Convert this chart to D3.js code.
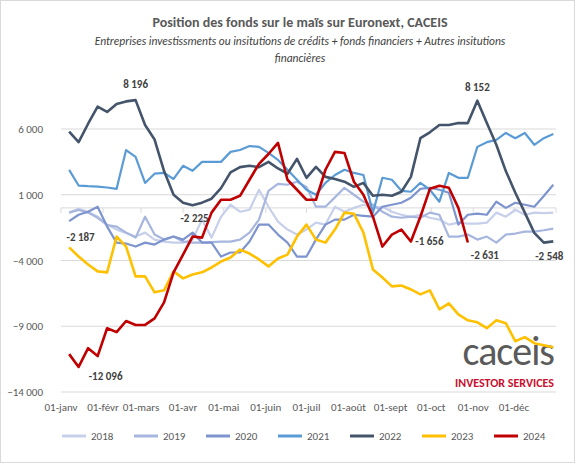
<!DOCTYPE html>
<html><head><meta charset="utf-8">
<script src="https://cdn.jsdelivr.net/npm/d3@7"></script>
<style>body{margin:0;background:#fff;font-family:Calibri,"Liberation Sans",Arial,sans-serif}</style>
</head><body><svg id="c" width="575" height="463"></svg>
<script>
let years = ['2018','2019','2020','2021','2022','2023','2024'];
let colors = ['#C7D0EA','#A7B6DF','#7D94CE','#5B9BD5','#44546A','#FFC000','#C00000'];
let monthLabels = ['01-janv','01-févr','01-mars','01-avr','01-mai','01-juin','01-juil','01-août','01-sept','01-oct','01-nov','01-déc'];
let monthDays = [0,31,59,90,120,151,181,212,243,273,304,334];
let yTicks = [6000,1000,-4000,-9000,-14000];

let s2018 = [-360,-60,-290,-670,-1270,-1650,-1900,-2180,-1880,-2410,-2560,-2640,-2640,-2410,-890,-2260,-670,240,-290,-140,1380,90,-1050,-1650,-2030,-1650,-1120,-1270,90,-290,0,240,0,90,-290,-520,-670,-520,-750,-890,-1270,-1120,-1200,-1200,-1120,-360,-670,-140,-520,-360,-400,-360];
let s2019 = [-360,-150,-360,-750,-1300,-1420,-1880,-2260,-670,-2030,-2410,-2180,-2560,-2640,-2640,-2600,-2560,-2560,-2410,-1880,-890,1300,1830,1760,1990,1600,90,90,800,1530,1000,470,240,-290,-670,-750,-670,-750,-360,-520,-2180,-2180,-2030,-2410,-2180,-2640,-2030,-1950,-1800,-1800,-1700,-1570];
let s2020 = [-1000,-520,-290,90,-1420,-2640,-2710,-2940,-2640,-2790,-2410,-2180,-2410,-1880,-2640,-2640,-3700,-3390,-3390,-2560,-1270,-1270,-2030,-2640,-3700,-3700,-2410,-1270,-890,-890,-520,-600,-670,90,240,390,770,1450,1530,1380,1150,-1270,-520,-440,-520,470,0,390,240,90,900,1760];
let s2021 = [2890,1700,1650,1620,1550,1450,4400,3880,1900,2600,2660,2200,3200,2820,3500,3500,3500,4260,4400,4700,4640,4180,3650,2900,2140,1380,1000,1900,2500,2900,2660,2500,-360,2290,2140,1300,1230,1900,1380,470,2660,2290,2290,4640,5000,5170,5700,5300,5700,4800,5300,5620];
let s2022 = [5800,5000,6400,7700,7300,7900,8100,8196,6300,5200,2800,1000,400,200,400,700,1500,2700,3100,3200,3100,3500,3000,2600,3730,2290,3120,2360,2200,1990,1600,1900,920,1000,920,1230,2360,5300,5750,6300,6300,6450,6450,8152,6450,4800,2800,1150,-360,-1900,-2640,-2548];
let s2023 = [-3000,-3700,-4300,-4830,-4900,-2180,-2940,-5210,-5210,-6420,-6270,-4830,-5360,-5060,-4900,-4530,-4080,-3770,-3170,-3470,-3920,-4450,-3850,-3550,-2180,-1270,-2410,-2640,-1650,-360,-440,-1880,-4680,-5290,-5970,-5900,-6200,-6580,-6270,-7710,-7260,-8090,-8550,-8700,-9150,-8550,-8770,-10140,-9830,-10290,-10440,-10590];
let s2024 = [-11120,-12096,-10670,-11270,-9150,-9450,-8600,-8900,-8900,-8400,-7180,-4900,-3550,-2180,-2260,-360,620,620,920,2140,3350,4100,4940,2140,1380,620,620,2900,4260,4180,1990,1000,-670,-2940,-2030,-1650,-2560,-670,1450,1680,1530,0,-2631];
let series = [s2018,s2019,s2020,s2021,s2022,s2023,s2024];

// point labels: [series index, week index, text, dx, dy]
let labels = [[4,7,'8 196',0,-12],[4,43,'8 152',0,-10],[5,5,'-2 187',-36,4],[6,1,'-12 096',27,13],[6,13,'-2 225',2,-15],[6,35,'-1 656',28,15],[6,42,'-2 631',17,17],[4,51,'-2 548',-4,19]];

const svg = d3.select('#c');
svg.append('rect').attr('x',0.5).attr('y',0.5).attr('width',574).attr('height',462).attr('fill','#fff').attr('stroke','#d9d9d9');

const x = d3.scaleLinear().domain([0,365]).range([61,556]);
const y = d3.scaleLinear().domain([-14000,6000]).range([392,129]);
const dayOf = i => 6 + i*7;

svg.append('text').attr('x',300).attr('y',27).attr('text-anchor','middle').attr('font-size',14).attr('font-weight','bold').attr('fill','#595959').text('Position des fonds sur le maïs sur Euronext, CACEIS');
svg.append('text').attr('x',300).attr('y',45).attr('text-anchor','middle').attr('font-size',11.5).attr('font-style','italic').attr('fill','#404040').text('Entreprises investissments ou insitutions de crédits + fonds financiers + Autres  insitutions');
svg.append('text').attr('x',300).attr('y',62).attr('text-anchor','middle').attr('font-size',11.5).attr('font-style','italic').attr('fill','#404040').text('financières');

// grid
svg.append('g').selectAll('line').data(yTicks).join('line')
  .attr('x1',61).attr('x2',556).attr('y1',d=>y(d)).attr('y2',d=>y(d)).attr('stroke','#d9d9d9');
svg.append('g').selectAll('text').data(yTicks).join('text')
  .attr('x',43).attr('y',d=>y(d)+4).attr('text-anchor','end').attr('font-size',11).attr('fill','#595959')
  .text(d=>d3.format(',')(d).replace(/,/g,' '));

// zero axis with ticks
svg.append('line').attr('x1',61).attr('x2',556).attr('y1',y(0)).attr('y2',y(0)).attr('stroke','#d9d9d9');
svg.append('g').selectAll('line').data(monthDays.concat([365])).join('line')
  .attr('x1',d=>x(d)).attr('x2',d=>x(d)).attr('y1',y(0)).attr('y2',y(0)+5).attr('stroke','#d9d9d9');
svg.append('g').selectAll('text').data(monthLabels).join('text')
  .attr('x',(d,i)=>x(monthDays[i])).attr('y',411).attr('text-anchor','middle').attr('font-size',11).attr('fill','#595959').text(d=>d);

// logo
svg.append('text').attr('x',554).attr('y',365).attr('text-anchor','end').attr('font-size',40).attr('fill','#5a5a5a').attr('letter-spacing',-1).text('caceis');
svg.append('text').attr('x',554).attr('y',387).attr('text-anchor','end').attr('font-size',12).attr('font-weight','bold').attr('fill','#C8102E').text('INVESTOR SERVICES');

const line = d3.line().x((d,i)=>x(dayOf(i))).y(d=>y(d)).curve(d3.curveLinear);
svg.append('g').selectAll('path').data(series).join('path')
  .attr('d',line).attr('fill','none').attr('stroke',(d,i)=>colors[i]).attr('stroke-width',(d,i)=>i>=4?2.6:2.2).attr('stroke-linejoin','round');

svg.append('g').selectAll('text').data(labels).join('text')
  .attr('x',d=>x(dayOf(d[1]))+d[3]).attr('y',d=>y(series[d[0]][d[1]])+d[4])
  .attr('text-anchor','middle').attr('font-size',11).attr('font-weight','bold').attr('fill','#404040').text(d=>d[2]);

// legend
const lg = svg.append('g').selectAll('g').data(years).join('g').attr('transform',(d,i)=>`translate(${62+i*72},436)`);
lg.append('line').attr('x1',0).attr('x2',24).attr('stroke',(d,i)=>colors[i]).attr('stroke-width',3);
lg.append('text').attr('x',29).attr('y',4).attr('font-size',11).attr('fill','#595959').text(d=>d);
</script></body></html>
